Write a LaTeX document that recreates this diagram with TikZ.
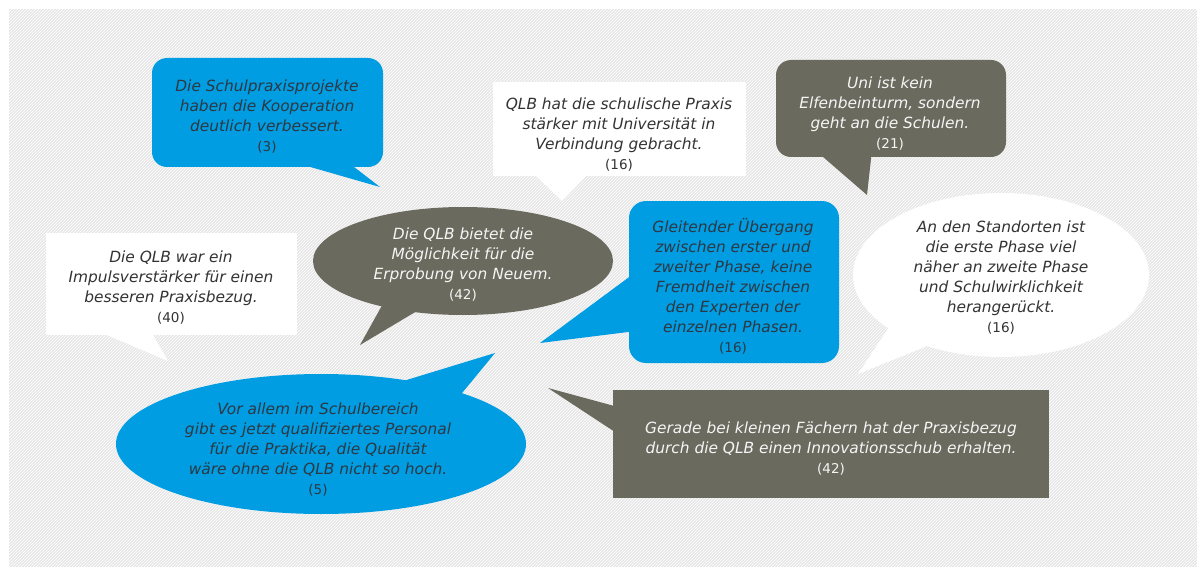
\documentclass[tikz,border=0pt]{standalone}
\usepackage{fontspec}
\setmainfont{DejaVu Sans}
\usetikzlibrary{shapes.geometric,patterns}

\definecolor{qblue}{RGB}{0,157,227}
\definecolor{qgray}{RGB}{107,106,94}
\definecolor{qback}{RGB}{230,230,230}
\definecolor{qdark}{RGB}{45,56,66}
\definecolor{qtext}{RGB}{51,51,51}
\definecolor{qlight}{RGB}{245,245,245}
\newcommand{\nr}[1]{\\[0pt]{\upshape\fontsize{13.5}{15}\selectfont(#1)}}

\begin{document}
\begin{tikzpicture}[x=1pt, y=-1pt,
  bub/.style={inner sep=0pt, outer sep=0pt},
  box/.style={bub, rectangle, rounded corners=#1}, box/.default=0pt,
  ell/.style={bub, ellipse},
  q/.style={align=center, inner sep=0pt, font=\fontsize{15.4}{20}\selectfont\itshape}]
\useasboundingbox (0,0) rectangle (1197,567);
\fill[qback] (9,9) rectangle (1197,567);
\fill[pattern=north east lines, pattern color=white] (9,9) rectangle (1197,567);

% blue, top left
\node[box=15pt, fill=qblue, minimum width=231pt, minimum height=109pt] (b1) at (267.5,112.5) {};
\coordinate (t1) at (380,187);
\fill[qblue] (286,160) -- (t1) -- (345,160) -- cycle;
\node[q, text=qdark] (q1) at (267,117) {Die Schulpraxisprojekte\\haben die Kooperation\\deutlich verbessert.\nr{3}};

% white, top middle
\node[box, fill=white, minimum width=253pt, minimum height=94pt] (b2) at (619.5,129) {};
\coordinate (t2) at (562,201);
\fill[white] (530,170) -- (t2) -- (592,170) -- cycle;
\node[q, text=qtext] (q2) at (619,134.5) {QLB hat die schulische Praxis\\st\"arker mit Universit\"at in\\Verbindung gebracht.\nr{16}};

% gray, top right
\node[box=15pt, fill=qgray, minimum width=230pt, minimum height=97pt] (b3) at (891,108.5) {};
\coordinate (t3) at (867,195);
\fill[qgray] (815,150) -- (t3) -- (872,150) -- cycle;
\node[q, text=qlight] (q3) at (890,113.5) {Uni ist kein\\Elfenbeinturm, sondern\\geht an die Schulen.\nr{21}};

% white ellipse, right
\node[ell, fill=white, minimum width=296pt, minimum height=164pt] (b4) at (1001,275) {};
\coordinate (t4) at (858,374);
\fill[white] (895,318) -- (t4) -- (942,340) -- cycle;
\node[q, text=qtext] (q4) at (1001,278) {An den Standorten ist\\die erste Phase viel\\n\"aher an zweite Phase\\und Schulwirklichkeit\\heranger\"uckt.\nr{16}};

% white, left
\node[box, fill=white, minimum width=251pt, minimum height=102pt] (b5) at (171.5,284) {};
\coordinate (t5) at (168,361);
\fill[white] (95,330) -- (t5) -- (150,330) -- cycle;
\node[q, text=qtext] (q5) at (171,288) {Die QLB war ein\\Impulsverst\"arker f\"ur einen\\besseren Praxisbezug.\nr{40}};

% gray ellipse, middle
\node[ell, fill=qgray, minimum width=300pt, minimum height=108pt] (b6) at (463,261) {};
\coordinate (t6) at (360,345);
\fill[qgray] (385,300) -- (t6) -- (427,305) -- cycle;
\node[q, text=qlight] (q6) at (463,265) {Die QLB bietet die\\M\"oglichkeit f\"ur die\\Erprobung von Neuem.\nr{42}};

% blue, centre
\node[box=17pt, fill=qblue, minimum width=210pt, minimum height=162pt] (b7) at (734,282) {};
\coordinate (t7) at (540,343);
\fill[qblue] (636,272) -- (t7) -- (636,331) -- cycle;
\node[q, text=qdark] (q7) at (733,286.5) {Gleitender \"Ubergang\\zwischen erster und\\zweiter Phase, keine\\Fremdheit zwischen\\den Experten der\\einzelnen Phasen.\nr{16}};

% blue ellipse, bottom left
\node[ell, fill=qblue, minimum width=410pt, minimum height=140pt] (b8) at (321,444) {};
\coordinate (t8) at (495,353);
\fill[qblue] (400,382) -- (t8) -- (458,398) -- cycle;
\node[q, text=qdark] (q8) at (318,449.5) {Vor allem im Schulbereich\\gibt es jetzt qualifiziertes Personal\\f\"ur die Praktika, die Qualit\"at\\w\"are ohne die QLB nicht so hoch.\nr{5}};

% gray, bottom right
\node[box, fill=qgray, minimum width=436pt, minimum height=108pt] (b9) at (831,444) {};
\coordinate (t9) at (548,388);
\fill[qgray] (618,407) -- (t9) -- (618,434) -- cycle;
\node[q, text=qlight] (q9) at (831,448.5) {Gerade bei kleinen F\"achern hat der Praxisbezug\\durch die QLB einen Innovationsschub erhalten.\nr{42}};
\end{tikzpicture}
\end{document}
